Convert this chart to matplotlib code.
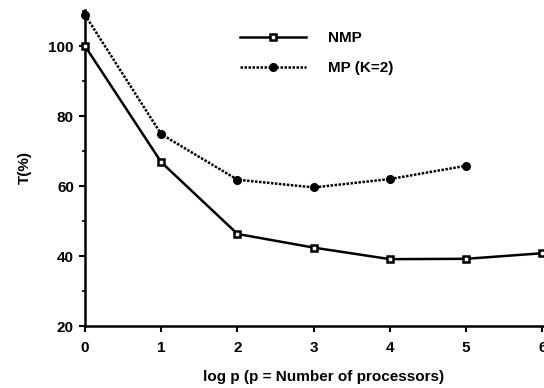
import matplotlib
matplotlib.use("Agg")
import matplotlib.pyplot as plt
from matplotlib.ticker import MultipleLocator

plt.rcParams['font.family'] = ['Liberation Sans', 'DejaVu Sans']

x_nmp = [0, 1, 2, 3, 4, 5, 6]
t_nmp = [100, 66.8, 46.3, 42.4, 39.1, 39.2, 40.8]
x_mp = [0, 1, 2, 3, 4, 5]
t_mp = [108.9, 74.8, 61.8, 59.6, 62, 65.8]

fig = plt.figure(figsize=(5.44, 3.88), dpi=100)
ax = fig.add_axes([85/544, 1-326/388, 1-85/544, (326-10)/388])

ax.plot(x_nmp, t_nmp, color='black', lw=1.8, marker='s', markersize=5,
        markerfacecolor='white', markeredgewidth=1.8, label='NMP', clip_on=False, zorder=3)
ax.plot(x_mp, t_mp, color='black', lw=1.8, ls=(0, (1, 0.6)), marker='o', markersize=5.5,
        markerfacecolor='black', label='MP (K=2)', clip_on=False, zorder=3)

ax.set_xlim(0, 6.02)
ax.set_ylim(20, 110.3)
ax.xaxis.set_major_locator(MultipleLocator(1))
ax.yaxis.set_major_locator(MultipleLocator(20))
ax.yaxis.set_minor_locator(MultipleLocator(10))

for s in ['top', 'right']:
    ax.spines[s].set_visible(False)
for s in ['left', 'bottom']:
    ax.spines[s].set_linewidth(1.8)

ax.tick_params(axis='x', which='major', direction='out', length=4, width=1.5, pad=6.5,
               labelsize=11)
ax.tick_params(axis='y', which='major', direction='out', length=4, width=1.5, pad=4,
               labelsize=11)
ax.tick_params(axis='y', which='minor', direction='out', length=2.5, width=1.2)
for lab in ax.get_xticklabels() + ax.get_yticklabels():
    lab.set_fontweight('bold')

ax.set_xlabel('log p (p = Number of processors)', fontsize=11, fontweight='bold')
ax.xaxis.set_label_coords(0.52, -(370 - 326) / 316)
ax.set_ylabel('T(%)', fontsize=11, fontweight='bold', labelpad=12)

leg = fig.legend(loc='upper left', bbox_to_anchor=(240/544, 1-31/388), frameon=False,
                 handlelength=4.3, handletextpad=1.45, labelspacing=1.05,
                 borderpad=0, borderaxespad=0, prop={'size': 11, 'weight': 'bold'})

fig.savefig('out.png', dpi=100)
